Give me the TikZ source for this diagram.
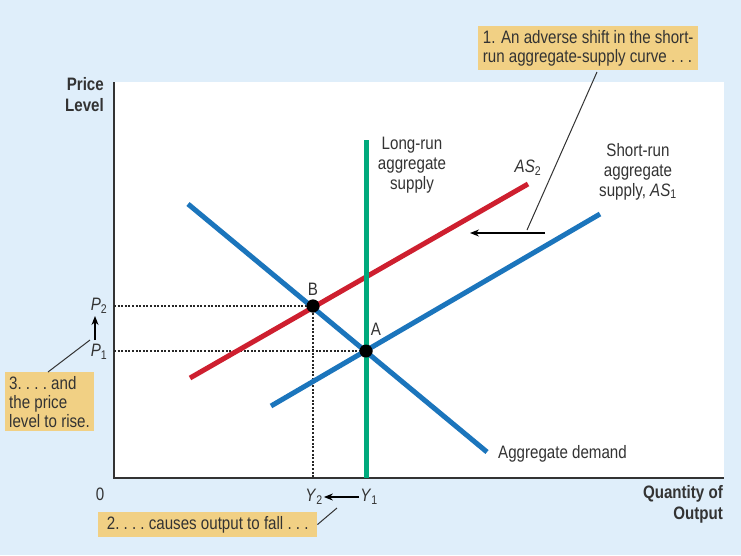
\documentclass[tikz,border=0pt]{standalone}
\usepackage{fontspec}
\setmainfont{Liberation Sans}[FakeStretch=0.84]
\usetikzlibrary{arrows.meta}
\definecolor{bgc}{HTML}{DFEEFA}
\definecolor{bluec}{HTML}{1B75BC}
\definecolor{redc}{HTML}{CE1F2F}
\definecolor{greenc}{HTML}{00A97C}
\definecolor{tanc}{HTML}{F1D084}
\definecolor{txt}{HTML}{333333}
\newcommand{\sbs}[1]{\textsubscript{#1}}
\tikzset{
  curve/.style={line width=5pt},
  dotl/.style={line width=2.4pt,dash pattern=on 2pt off 1.6pt,black!85},
  lbl/.style={font=\fontsize{18}{19}\selectfont,text=txt,inner sep=1pt,align=center},
  ann/.style={fill=tanc,font=\fontsize{18}{19}\selectfont,text=txt,inner sep=4pt},
  lead/.style={line width=1pt,txt},
  arr/.style={line width=1.2pt,-{Stealth[length=9pt,width=7pt]},black},
  dot/.style={circle,fill=black,inner sep=0pt,minimum size=13pt}
}
\begin{document}
\begin{tikzpicture}[x=1pt,y=-1pt]
\fill[bgc] (0,0) rectangle (741,555);
\useasboundingbox (0,0) rectangle (741,555);
\fill[white] (114,82) rectangle (724,478);
\draw[line width=1.6pt,txt] (114,82) -- (114,478) -- (724,478);
\coordinate (p2l) at (114,306); \coordinate (p1l) at (114,351);
\coordinate (y2b) at (313,478);
\node[dot] (B) at (313,306) {};
\node[dot] (A) at (366,351) {};
\draw[dotl] (p2l) -- (B.center);
\draw[dotl] (p1l) -- (A.center);
\draw[dotl] (B.center) -- (y2b);
\coordinate (lr1) at (366,140); \coordinate (lr2) at (366,478);
\coordinate (ad1) at (188,204); \coordinate (ad2) at (487,452);
\coordinate (s11) at (271,406); \coordinate (s12) at (600,214);
\coordinate (s21) at (190,378); \coordinate (s22) at (528,184);
\draw[curve,bluec] (ad1) -- (ad2);
\draw[curve,bluec] (s11) -- (s12);
\draw[curve,redc] (s21) -- (s22);
\draw[curve,greenc] (lr1) -- (lr2);
\node[dot] at (B) {};
\node[dot] at (A) {};
\node[lbl] (Bl) at (313,289) {B};
\node[lbl] (Al) at (376,329) {A};
\node[lbl,font=\fontsize{18}{21}\selectfont\bfseries,align=right,anchor=north east] (pl) at (105,76) {Price\\Level};
\node[lbl,font=\fontsize{18}{21}\selectfont\bfseries,align=right,anchor=north east] (qo) at (724,484) {Quantity of\\Output};
\node[lbl,anchor=north,font=\fontsize{18}{20}\selectfont] (lr) at (412,136) {Long-run\\aggregate\\supply};
\node[lbl] (as2) at (528,168) {\textit{AS}\sbs{2}};
\node[lbl,anchor=north,font=\fontsize{18}{20}\selectfont] (sr) at (638,142) {Short-run\\aggregate\\supply, \textit{AS}\sbs{1}};
\node[lbl,anchor=west] (ad) at (497,454) {Aggregate demand};
\node[lbl] (zero) at (100,494) {0};
\node[lbl] (P2) at (99,306) {\textit{P}\sbs{2}};
\node[lbl] (P1) at (99,352) {\textit{P}\sbs{1}};
\node[lbl] (Y2) at (314,497) {\textit{Y}\sbs{2}};
\node[lbl] (Y1) at (369,497) {\textit{Y}\sbs{1}};
\coordinate (pa1) at (95,340); \coordinate (pa2) at (95,316);
\draw[arr] (pa1) -- (pa2);
\draw[arr] (Y1.west) -- (Y2.east);
\node[ann,anchor=north west,align=left,minimum width=85pt] (n3) at (5,372) {3.\ .\ .\ .\ and\\the price\\level to rise.};
\node[ann,anchor=north west,minimum width=219pt] (n2) at (98,512) {2.\ .\ .\ .\ causes output to fall\ .\ .\ .};
\node[ann,anchor=north west,align=left,minimum width=220pt] (n1) at (478,26) {1. An adverse shift in the short-\\run aggregate-supply curve\ .\ .\ .};
\coordinate (c3) at (90,340);
\draw[lead] (c3) -- (48,372);
\coordinate (c2) at (337,508);
\draw[lead] (c2) -- (n2.east);
\coordinate (c1) at (527,230); \coordinate (c1t) at (597,72);
\draw[lead] (c1t) -- (c1);
\coordinate (h1) at (545,233); \coordinate (h2) at (470,233);
\draw[arr] (h1) -- (h2);
\end{tikzpicture}
\end{document}
